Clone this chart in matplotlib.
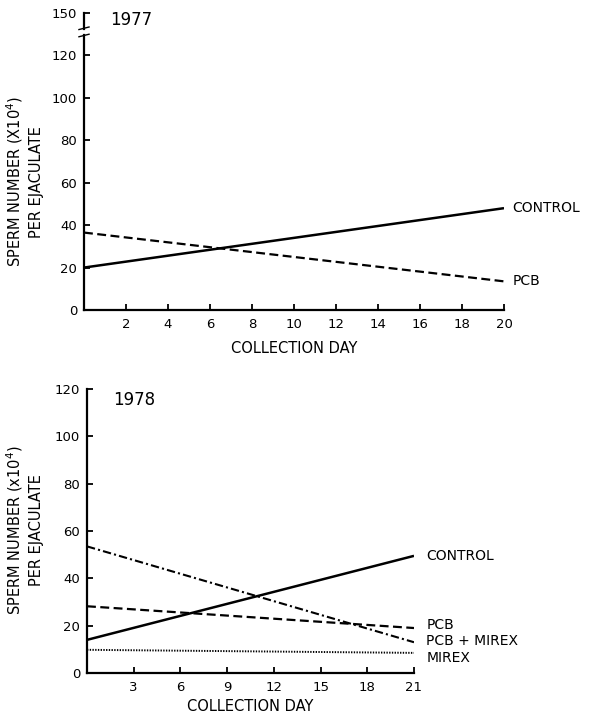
import matplotlib
matplotlib.use("Agg")
import matplotlib.pyplot as plt
import matplotlib.transforms as mtransforms

plt.rcParams['font.family'] = ['DejaVu Sans']

# 1977 data (regression lines, collection day vs sperm number)
days_1977 = [0, 20]
control_1977 = [20, 48]
pcb_1977 = [36.5, 13.5]

# 1978 data
days_1978 = [0, 21]
control_1978 = [14, 49.5]
pcb_1978 = [28.2, 19]
pcb_mirex_1978 = [53.5, 13]
mirex_1978 = [9.8, 8.5]

yticks_1977 = [0, 20, 40, 60, 80, 100, 120, 140]
yticklabels_1977 = ["0", "20", "40", "60", "80", "100", "120", "150"]
xticks_1977 = [2, 4, 6, 8, 10, 12, 14, 16, 18, 20]

yticks_1978 = [0, 20, 40, 60, 80, 100, 120]
xticks_1978 = [3, 6, 9, 12, 15, 18, 21]

YLABEL_1977 = "SPERM NUMBER (X10$^4$)\nPER EJACULATE"
YLABEL_1978 = "SPERM NUMBER (x10$^4$)\nPER EJACULATE"

W, H = 592, 717
fig = plt.figure(figsize=(W / 100, H / 100), dpi=100)


def style_axes(ax, xmax, ymax, xticks, yticks, yticklabels=None, labelpad=7):
    for s in ["top", "right"]:
        ax.spines[s].set_visible(False)
    for s in ["left", "bottom"]:
        ax.spines[s].set_linewidth(1.6)
    ax.set_xlim(0, xmax)
    ax.set_ylim(0, ymax)
    ax.spines["bottom"].set_bounds(0, xmax)
    ax.set_xticks(xticks)
    ax.set_yticks(yticks)
    if yticklabels:
        ax.set_yticklabels(yticklabels)
    ax.tick_params(axis="both", direction="in", length=4.5, width=1.3,
                   labelsize=9.5, pad=5)
    ax.tick_params(axis="x", pad=6)
    ax.set_xlabel("COLLECTION DAY", fontsize=10.5, labelpad=labelpad)


def end_label(ax, x, y, text, dx):
    ax.annotate(text, xy=(x, y), xytext=(dx, 0), textcoords="offset points",
                ha="left", va="center", fontsize=10, annotation_clip=False)


# ---- 1977 ----
ax1 = fig.add_axes([84 / W, (H - 310) / H, 420 / W, 297 / H])
style_axes(ax1, 20, 140, xticks_1977, yticks_1977, yticklabels_1977)
ax1.spines["left"].set_bounds(0, 129.5)

# axis break near the top
trans = mtransforms.blended_transform_factory(ax1.transAxes, ax1.transData)
ax1.plot([0, 0], [132.5, 140], color="black", lw=1.6, transform=trans, clip_on=False)
ax1.plot([-0.012, 0.012], [128.8, 130.0], color="black", lw=1.0, transform=trans, clip_on=False)
ax1.plot([-0.012, 0.012], [132.2, 133.4], color="black", lw=1.0, transform=trans, clip_on=False)

ax1.plot(days_1977, control_1977, color="black", lw=1.8, solid_capstyle="butt")
ax1.plot(days_1977, pcb_1977, color="black", lw=1.6, linestyle=(0, (4, 2)))
end_label(ax1, days_1977[-1], control_1977[-1], "CONTROL", 6)
end_label(ax1, days_1977[-1], pcb_1977[-1], "PCB", 6)
ax1.text(0.062, 0.975, "1977", transform=ax1.transAxes, fontsize=12,
         ha="left", va="center")

# ---- 1978 ----
ax2 = fig.add_axes([87 / W, (H - 673) / H, 327 / W, 284 / H])
style_axes(ax2, 21, 120, xticks_1978, yticks_1978, labelpad=3.5)

ax2.plot(days_1978, control_1978, color="black", lw=1.8, solid_capstyle="butt")
ax2.plot(days_1978, pcb_1978, color="black", lw=1.6, linestyle=(0, (4, 2)))
ax2.plot(days_1978, pcb_mirex_1978, color="black", lw=1.5,
         linestyle=(0, (4, 1.5, 1, 1.5)))
ax2.plot(days_1978, mirex_1978, color="black", lw=1.4, linestyle=(0, (0.7, 0.7)))

end_label(ax2, days_1978[-1], control_1978[-1], "CONTROL", 9)
ax2.annotate("PCB", xy=(days_1978[-1], 20.3), xytext=(9, 0),
             textcoords="offset points", ha="left", va="center", fontsize=10,
             annotation_clip=False)
ax2.annotate("PCB + MIREX", xy=(days_1978[-1], 13.5), xytext=(9, 0),
             textcoords="offset points", ha="left", va="center", fontsize=10,
             annotation_clip=False)
ax2.annotate("MIREX", xy=(days_1978[-1], 6.3), xytext=(9, 0),
             textcoords="offset points", ha="left", va="center", fontsize=10,
             annotation_clip=False)
ax2.text(0.08, 0.961, "1978", transform=ax2.transAxes, fontsize=12,
         ha="left", va="center")

# y labels
fig.text(24 / W, (H - 182) / H, YLABEL_1977, rotation=90, ha="center",
         va="center", multialignment="center", fontsize=10.5, linespacing=1.3)
fig.text(24 / W, (H - 530) / H, YLABEL_1978, rotation=90, ha="center",
         va="center", multialignment="center", fontsize=10.5, linespacing=1.3)

fig.savefig("out.png", dpi=100, facecolor="white")
